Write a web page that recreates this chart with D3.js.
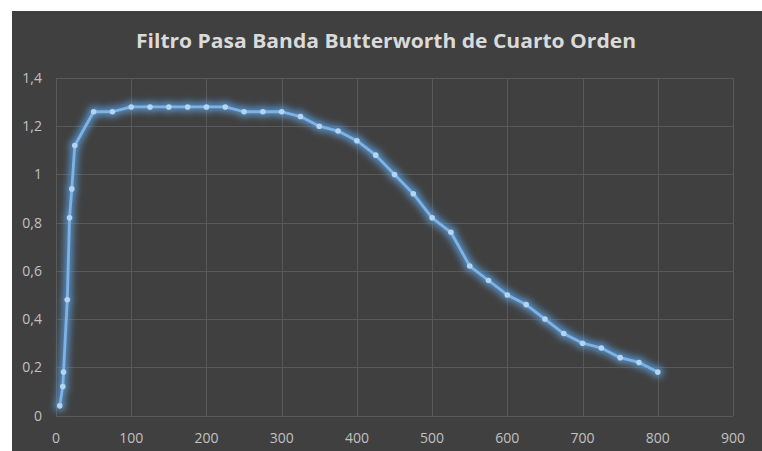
<!DOCTYPE html>
<html>
<head>
<meta charset="utf-8">
<script src="https://cdn.jsdelivr.net/npm/d3@7"></script>
<style>
  html, body { margin: 0; padding: 0; background: #ffffff; }
  svg { display: block; }
</style>
</head>
<body>
<svg id="chart" width="762" height="451"></svg>
<script>
// ---- data ----
const title = "Filtro Pasa Banda Butterworth de Cuarto Orden";
const freq = [5, 9, 10, 15, 18, 21, 25, 50, 75, 100, 125, 150, 175, 200, 225, 250, 275, 300, 325, 350, 375, 400, 425, 450, 475, 500, 525, 550, 575, 600, 625, 650, 675, 700, 725, 750, 775, 800];
const gain = [0.04, 0.12, 0.18, 0.48, 0.82, 0.94, 1.12, 1.26, 1.26, 1.28, 1.28, 1.28, 1.28, 1.28, 1.28, 1.26, 1.26, 1.26, 1.24, 1.20, 1.18, 1.14, 1.08, 1.00, 0.92, 0.82, 0.76, 0.62, 0.56, 0.50, 0.46, 0.40, 0.34, 0.30, 0.28, 0.24, 0.22, 0.18];
const xTicks = [0, 100, 200, 300, 400, 500, 600, 700, 800, 900];
const yTicks = [0, 0.2, 0.4, 0.6, 0.8, 1, 1.2, 1.4];

const svg = d3.select("#chart");
const W = 762, H = 451;

// chart background
svg.append("rect").attr("x", 12).attr("y", 11).attr("width", W - 12).attr("height", H - 11).attr("fill", "#404040");

const plot = {left: 56, right: 733, top: 78, bottom: 415.5};
const x = d3.scaleLinear().domain([0, 900]).range([plot.left, plot.right]);
const y = d3.scaleLinear().domain([0, 1.4]).range([plot.bottom, plot.top]);

// filter for glow
const defs = svg.append("defs");
const f = defs.append("filter").attr("id", "glow").attr("x", "-10%").attr("y", "-10%").attr("width", "120%").attr("height", "120%");
f.append("feGaussianBlur").attr("stdDeviation", 3.5);

// gridlines via axes
const gx = svg.append("g").attr("transform", `translate(0,${plot.bottom})`)
  .call(d3.axisBottom(x).tickValues(xTicks).tickSize(-(plot.bottom - plot.top)).tickFormat(""));
gx.select(".domain").remove();
gx.selectAll("line").attr("stroke", "#595959").attr("stroke-width", 1).attr("shape-rendering", "crispEdges");

const gy = svg.append("g").attr("transform", `translate(${plot.left},0)`)
  .call(d3.axisLeft(y).tickValues(yTicks).tickSize(-(plot.right - plot.left)).tickFormat(""));
gy.select(".domain").remove();
gy.selectAll("line").attr("stroke", "#595959").attr("stroke-width", 1).attr("shape-rendering", "crispEdges");

// tick labels
const fmt = v => String(+v.toFixed(1)).replace(".", ",");
svg.append("g").selectAll("text").data(yTicks).join("text")
  .attr("x", 42).attr("y", d => y(d) + 5)
  .attr("text-anchor", "end")
  .attr("font-family", "'Open Sans', sans-serif").attr("font-size", 14)
  .attr("fill", "#c0c0c0")
  .text(fmt);
svg.append("g").selectAll("text").data(xTicks).join("text")
  .attr("x", d => x(d)).attr("y", 443)
  .attr("text-anchor", "middle")
  .attr("font-family", "'Open Sans', sans-serif").attr("font-size", 14)
  .attr("fill", "#c0c0c0")
  .text(d => d);

// title
svg.append("text")
  .attr("x", 386).attr("y", 48)
  .attr("text-anchor", "middle")
  .attr("font-family", "'Open Sans', sans-serif").attr("font-weight", 700).attr("font-size", 19)
  .attr("fill", "#dadada")
  .attr("textLength", 500).attr("lengthAdjust", "spacingAndGlyphs")
  .text(title);

// series
const pts = freq.map((f, i) => [f, gain[i]]);
const line = d3.line().x(d => x(d[0])).y(d => y(d[1]));

const glow = svg.append("g").attr("filter", "url(#glow)").attr("opacity", 0.9);
glow.append("path").datum(pts).attr("d", line).attr("fill", "none")
  .attr("stroke", "#5b9bd5").attr("stroke-width", 8).attr("stroke-linejoin", "round");
glow.selectAll("circle").data(pts).join("circle")
  .attr("cx", d => x(d[0])).attr("cy", d => y(d[1])).attr("r", 5.5).attr("fill", "#5b9bd5");

svg.append("path").datum(pts).attr("d", line).attr("fill", "none")
  .attr("stroke", "#7db3e8").attr("stroke-width", 2.8).attr("stroke-linejoin", "round");
svg.append("g").selectAll("circle").data(pts).join("circle")
  .attr("cx", d => x(d[0])).attr("cy", d => y(d[1])).attr("r", 2.8)
  .attr("fill", "#b4d4f2");
</script>
</body>
</html>
